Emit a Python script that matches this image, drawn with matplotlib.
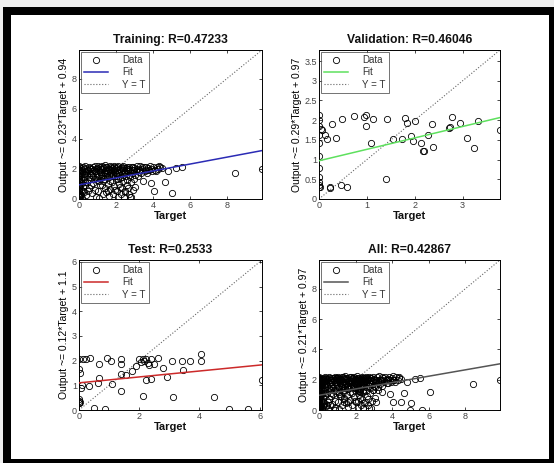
import matplotlib
matplotlib.use('Agg')
import matplotlib.pyplot as plt
from matplotlib.patches import Rectangle

plt.rcParams['font.family'] = ['Liberation Sans', 'DejaVu Sans']

# ---------------- data ----------------
train_t = [0, 0, 0, 0, 0, 0, 0, 0, 0, 0, 0, 0, 0, 0, 0, 0, 0, 0, 0, 0, 0,
           0.05, 0.08, 0.1, 0.06, 0.12, 0.07, 0.1, 0.15, 0.2, 0.18, 0.25, 0.22, 0.3, 0.28, 0.25, 0.3, 0.35, 0.32, 0.12, 0.05,
           0.4, 0.45, 0.5, 0.52, 0.55, 0.6, 0.62, 0.68, 0.7, 0.75, 0.78, 0.8, 0.85, 0.9, 0.92, 0.95, 0.98, 0.42, 0.58, 0.88,
           1.02, 1.05, 1.08, 1.1, 1.12, 1.15, 1.2, 1.22, 1.25, 1.28, 1.3, 1.33, 1.35, 1.38, 1.4, 1.42, 1.45, 1.48, 1.5, 1.18,
           1.52, 1.55, 1.58, 1.6, 1.62, 1.65, 1.68, 1.7, 1.72, 1.75, 1.78, 1.8, 1.83, 1.85, 1.88, 1.9, 1.92, 1.95, 1.98, 1.6,
           2.0, 2.03, 2.05, 2.08, 2.1, 2.12, 2.15, 2.18, 2.2, 2.22, 2.25, 2.28, 2.3, 2.33, 2.35, 2.38, 2.4, 2.42, 2.45, 2.48,
           2.5, 2.52, 2.55, 2.58, 2.6, 2.65, 2.68, 2.7, 2.72, 2.75, 2.78, 2.8, 2.82, 2.85, 2.88, 2.9, 2.95, 2.98,
           3.0, 3.05, 3.1, 3.15, 3.2, 3.25, 3.3, 3.35, 3.4, 3.45, 3.5,
           3.55, 3.6, 3.7, 3.75, 3.8, 3.85, 3.9, 3.95, 4.0, 4.04, 4.1, 4.2, 4.3, 4.4, 4.5, 4.64, 4.82,
           5.04, 5.27, 5.55, 8.42, 9.9,
           0.02, 0.03, 0.04, 0.1, 0.14, 0.16, 0.2, 0.24, 0.27, 0.33, 0.38, 0.44, 0.47, 0.53, 0.57, 0.63, 0.66, 0.72,
           0.77, 0.83, 0.87, 0.93, 0.97, 1.03, 1.07, 1.13, 1.17, 1.23, 1.27, 1.32, 1.37, 1.43, 1.47, 1.53, 1.57, 1.63,
           1.67, 1.73, 1.77, 1.82, 1.87, 1.93, 1.97, 2.02, 2.07, 2.13, 2.17, 2.23, 2.27, 2.32, 2.37, 2.43, 2.47, 2.53,
           2.57, 2.63, 2.67, 2.73, 2.77, 2.87, 2.93, 3.02, 3.12, 3.22, 3.32, 3.42, 3.65, 3.9, 4.15, 4.35]
train_y = [0.12, 0.2, 0.28, 0.33, 0.41, 0.52, 0.63, 0.77, 0.88, 1.02, 1.15, 1.27, 1.38, 1.5, 1.62, 1.71, 1.83, 1.92, 2.01, 2.1, 2.18,
           0.15, 0.35, 0.6, 0.95, 1.3, 1.55, 1.75, 1.95, 2.12, 0.05, 0.45, 0.8, 1.1, 1.45, 1.68, 1.88, 2.05, 2.2, 2.05, 1.85,
           0.25, 1.6, 1.9, 2.15, 0.7, 1.35, 1.75, 2.0, 0.4, 1.05, 1.55, 1.95, 2.2, 0.15, 1.7, 1.25, 2.05, 1.15, 1.98, 1.85,
           0.55, 1.5, 1.9, 0.04, 2.1, 0.9, 1.65, 1.98, 2.18, 0.3, 1.2, 1.82, 2.05, 0.75, 1.55, 2.25, 1.95, 0.45, 1.7, 1.4,
           2.12, 1.0, 1.85, 0.2, 2.0, 1.45, 2.2, 0.65, 1.75, 1.92, 1.15, 2.08, 0.35, 1.6, 1.98, 0.85, 2.18, 1.8, 1.3, 1.6,
           2.05, 0.5, 1.9, 1.55, 2.22, 0.1, 1.75, 1.0, 2.0, 1.4, 1.85, 0.3, 2.12, 1.65, 0.75, 1.95, 1.2, 0.15, 2.05, 1.78,
           0.55, 1.92, 1.5, 2.15, 0.9, 1.85, 0.35, 2.02, 1.6, 0.12, 1.95, 1.1, 0.15, 2.1, 1.7, 0.6, 1.9, 1.35,
           2.05, 0.8, 1.85, 2.18, 1.5, 1.95, 2.22, 1.7, 2.0, 1.2, 2.1,
           1.88, 2.15, 1.75, 2.05, 1.95, 2.2, 1.07, 1.85, 2.1, 0.52, 1.95, 2.15, 2.0, 2.1, 2.05, 1.13, 1.85,
           0.43, 2.07, 2.1, 1.72, 2.0,
           0.5, 1.2, 1.9, 0.25, 1.05, 1.65, 0.55, 1.25, 2.0, 0.9, 1.7, 1.95, 0.5, 1.45, 2.08, 0.95, 1.6, 1.85,
           2.12, 1.3, 0.6, 1.98, 1.45, 2.2, 1.2, 1.78, 2.02, 0.95, 1.55, 2.15, 1.35, 1.75, 2.1, 1.5, 0.55, 1.9,
           1.2, 2.15, 1.55, 1.85, 2.1, 1.5, 0.6, 1.65, 2.12, 1.3, 1.95, 0.8, 2.05, 1.45, 2.18, 1.7, 0.45, 2.08,
           1.25, 1.98, 0.7, 2.15, 1.45, 1.95, 2.15, 1.6, 2.0, 1.8, 1.95, 2.15, 1.95, 2.0, 1.85, 2.2]

val_t = [0, 0, 0, 0.05, 0.07, 0, 0.12, 0.16, 0, 0, 0, 0, 0, 0, 0, 0.03, 0.22, 0.24, 0.45, 0.58,
         0.28, 0.35, 0.49, 0.73, 0.94, 0.99, 0.99, 1.13, 1.08, 1.41, 1.39, 1.55, 1.79, 1.83, 1.74, 1.93,
         1.97, 2.0, 2.13, 2.17, 2.19, 2.27, 2.35, 2.38, 2.71, 2.74, 2.78, 2.94, 3.09, 3.23, 3.33, 3.78]
val_y = [2.14, 2.0, 1.86, 1.78, 1.75, 1.63, 1.63, 1.52, 1.42, 1.09, 0.78, 0.57, 0.44, 0.36, 0.3, 0.3, 0.3, 0.29, 0.36, 0.3,
         1.91, 1.54, 2.03, 2.11, 2.08, 2.14, 1.86, 2.03, 1.42, 2.03, 0.51, 1.53, 2.05, 1.92, 1.52, 1.6,
         1.48, 1.99, 1.42, 1.23, 1.23, 1.63, 1.91, 1.31, 1.8, 1.82, 2.08, 1.94, 1.54, 1.29, 1.97, 1.75]

test_t = [0, 0, 0, 0.02, 0, 0, 0, 0.03, 0.09, 0.06, 0.13, 0.24, 0.36, 0.33, 0.5, 0.67, 0.67, 0.64, 0.87, 0.94,
          1.06, 1.09, 1.39, 1.39, 1.39, 1.39, 1.56, 1.76, 1.89, 2.0, 2.06, 2.11, 2.17, 2.22, 2.28, 2.39, 2.33,
          2.11, 2.22, 2.39, 2.5, 2.61, 2.78, 2.94, 3.09, 3.11, 3.42, 3.47, 3.69, 4.06, 4.06, 4.5, 4.97, 5.61, 6.08]
test_y = [0.36, 0.3, 0.28, 0.32, 0.43, 2.05, 1.65, 1.51, 1.01, 0.9, 2.05, 2.05, 2.12, 0.97, 0.09, 1.88, 1.31, 1.11, 0.03, 2.12,
          1.99, 1.07, 2.08, 1.88, 1.47, 0.77, 1.41, 1.58, 1.78, 2.05, 1.95, 2.08, 1.98, 2.05, 1.9, 2.08, 1.82,
          0.57, 1.2, 1.24, 1.88, 2.12, 1.72, 1.35, 1.99, 0.53, 1.99, 1.61, 1.99, 2.26, 1.99, 0.54, 0.03, 0.03, 1.22]

titles = ['Training: R=0.47233', 'Validation: R=0.46046', 'Test: R=0.2533', 'All: R=0.42867']
ylabels = ['Output ~= 0.23*Target + 0.94', 'Output ~= 0.29*Target + 0.97',
           'Output ~= 0.12*Target + 1.1', 'Output ~= 0.21*Target + 0.97']
fit_slope = [0.23, 0.29, 0.12, 0.21]
fit_intercept = [0.94, 0.97, 1.1, 0.97]
fit_colors = ['#2b2bb5', '#5ee05e', '#cc2a2a', '#555555']
ticks = [[0, 2, 4, 6, 8],
         [0, 0.5, 1, 1.5, 2, 2.5, 3, 3.5],
         [0, 1, 2, 3, 4, 5, 6],
         [0, 2, 4, 6, 8]]
xticks = [[0, 2, 4, 6, 8], [0, 1, 2, 3], [0, 2, 4, 6], [0, 2, 4, 6, 8]]

all_t = train_t + val_t + test_t
all_y = train_y + val_y + test_y
series = [(train_t, train_y), (val_t, val_y), (test_t, test_y), (all_t, all_y)]

# ---------------- figure ----------------
W, H = 554, 463
fig = plt.figure(figsize=(W / 100, H / 100), dpi=100, facecolor='#eeeeee')


def frac_rect(x0, y0, x1, y1):
    return (x0 / W, 1 - y1 / H, (x1 - x0) / W, (y1 - y0) / H)


x, y, w, h = frac_rect(3, 7, 554, 463)
fig.patches.append(Rectangle((x, y), w, h, transform=fig.transFigure, facecolor='black',
                             edgecolor='none', zorder=-10))
x, y, w, h = frac_rect(11, 15, 548.5, 458.5)
fig.patches.append(Rectangle((x, y), w, h, transform=fig.transFigure, facecolor='white',
                             edgecolor='none', zorder=-9))

axes_px = [(79, 50, 262, 199), (319, 50, 500, 199), (79, 260, 262, 410), (319, 260, 500, 410)]


def fmt(v):
    return ('%g' % v)


for i in range(4):
    ax = fig.add_axes(frac_rect(*axes_px[i]))
    t, o = series[i]
    lim = max(max(t), max(o))
    ax.plot(t, o, 'o', mfc='none', mec='black', ms=4.5, mew=0.6, label='Data', zorder=3)
    ax.plot([0, lim], [fit_intercept[i], fit_slope[i] * lim + fit_intercept[i]],
            color=fit_colors[i], lw=1.1, label='Fit', zorder=4)
    ax.plot([0, lim], [0, lim], ':', color='#666666', lw=0.8, label='Y = T', zorder=2)
    ax.set_xlim(0, lim)
    ax.set_ylim(0, lim)
    ax.set_xticks(xticks[i])
    ax.set_xticklabels([fmt(v) for v in xticks[i]])
    ax.set_yticks(ticks[i])
    ax.set_yticklabels([fmt(v) for v in ticks[i]])
    ax.tick_params(direction='in', top=True, right=True, length=2.5, width=0.5,
                   labelsize=6.5, pad=1.5, labelcolor='#444444')
    for s in ax.spines.values():
        s.set_linewidth(0.7)
    ax.set_title(titles[i], fontsize=8.7, fontweight='bold', pad=5, color='#111111')
    ax.set_xlabel('Target', fontsize=8, fontweight='bold', labelpad=1, color='#111111')
    ax.set_ylabel(ylabels[i], fontsize=7.5, labelpad=2)
    leg = ax.legend(loc='upper left', fontsize=7, frameon=True, fancybox=False,
                    edgecolor='#333333', handlelength=2.4, borderaxespad=0.2,
                    borderpad=0.35, labelspacing=0.22, handletextpad=1.5)
    leg.get_frame().set_linewidth(0.6)
    for txt in leg.get_texts():
        txt.set_color('#333333')

fig.savefig('out.png', dpi=100, facecolor=fig.get_facecolor())
